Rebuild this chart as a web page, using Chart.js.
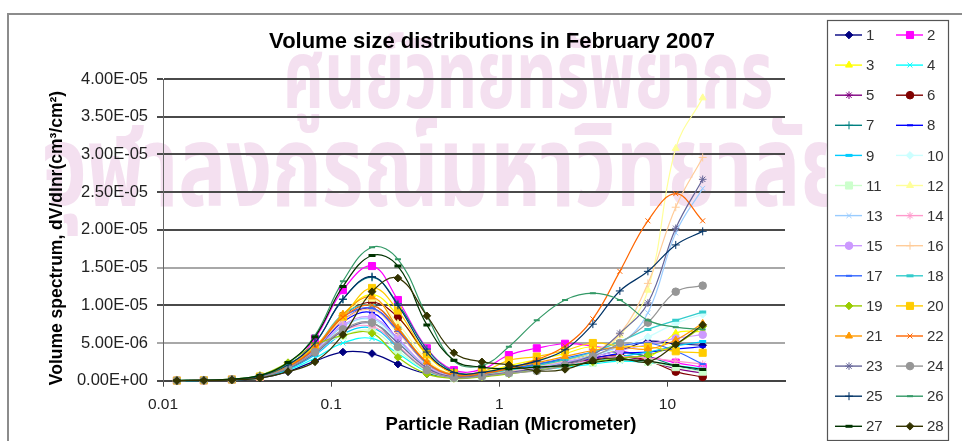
<!DOCTYPE html>
<html>
<head>
<meta charset="utf-8">
<script src="https://cdn.jsdelivr.net/npm/chart.js@4.4.1/dist/chart.umd.min.js"></script>
<style>
  html, body { margin: 0; padding: 0; background: #ffffff; }
  #wrap { width: 962px; height: 441px; position: relative; }
</style>
</head>
<body>
<div id="wrap"><canvas id="chart" width="962" height="441"></canvas></div>
<script>
// Particle radius of each size bin (micrometer)
const radii = [0.0121, 0.0175, 0.0257, 0.0377, 0.0554, 0.0801, 0.1175, 0.175, 0.2495, 0.371,
               0.537, 0.788, 1.14, 1.67, 2.46, 3.60, 5.21, 7.65, 11.2, 16.2];

// Volume spectrum per day, in units of 1E-06 cm3/cm2
const day1  = [0.01, 0.03, 0.10, 0.35, 1.2, 2.6, 3.8, 3.6, 2.2, 0.9, 0.6, 0.9, 1.4, 2.0, 2.6, 3.3, 4.0, 5.2, 4.9, 4.7];
const day2  = [0.02, 0.05, 0.15, 0.50, 1.8, 5.6, 12.0, 15.2, 10.7, 4.3, 1.4, 1.5, 3.4, 4.3, 4.9, 4.6, 4.0, 3.2, 2.4, 1.8];
const day3  = [0.02, 0.04, 0.12, 0.45, 1.6, 4.2, 8.8, 11.4, 8.6, 3.4, 1.1, 1.1, 2.0, 2.8, 3.6, 4.5, 3.5, 3.0, 6.3, 6.5];
const day4  = [0.01, 0.03, 0.10, 0.40, 1.4, 3.0, 5.0, 5.6, 3.6, 1.2, 0.4, 0.6, 1.0, 1.4, 1.8, 2.2, 2.6, 2.4, 2.0, 1.6];
const day5  = [0.02, 0.05, 0.14, 0.50, 1.7, 4.0, 8.0, 9.6, 6.5, 2.2, 0.7, 0.8, 1.3, 1.8, 2.3, 2.8, 3.2, 2.6, 1.6, 1.0];
const day6  = [0.02, 0.05, 0.14, 0.50, 1.8, 4.3, 8.6, 10.4, 8.4, 3.6, 1.0, 0.9, 1.4, 1.9, 2.4, 3.0, 3.4, 2.7, 1.2, 0.5];
const day7  = [0.02, 0.06, 0.18, 0.60, 2.1, 5.0, 10.8, 13.7, 10.2, 4.2, 1.2, 1.0, 1.6, 2.2, 2.8, 3.4, 3.8, 3.2, 2.0, 1.3];
const day8  = [0.02, 0.05, 0.14, 0.50, 1.7, 4.0, 7.8, 9.0, 5.5, 1.8, 0.6, 0.8, 1.3, 1.8, 2.4, 3.0, 3.6, 3.8, 4.2, 4.5];
const day9  = [0.01, 0.04, 0.12, 0.45, 1.5, 3.4, 6.2, 7.0, 4.4, 1.5, 0.5, 0.7, 1.1, 1.5, 2.0, 2.6, 3.2, 3.8, 4.6, 5.2];
const day10 = [0.02, 0.05, 0.14, 0.50, 1.7, 4.0, 7.2, 8.0, 5.2, 1.8, 0.6, 0.8, 1.2, 1.7, 2.4, 3.2, 4.4, 5.8, 7.6, 8.8];
const day11 = [0.02, 0.05, 0.15, 0.55, 1.9, 4.2, 6.0, 6.6, 4.0, 1.3, 0.4, 0.6, 1.0, 1.4, 1.9, 2.4, 2.9, 2.5, 1.8, 1.2];
const day12 = [0.02, 0.05, 0.15, 0.50, 1.8, 4.2, 8.6, 10.8, 7.6, 2.8, 0.8, 0.8, 1.3, 1.9, 2.6, 3.6, 6.0, 12.0, 30.8, 37.5];
const day13 = [0.02, 0.05, 0.15, 0.50, 1.7, 3.8, 7.2, 8.2, 5.4, 1.8, 0.6, 0.8, 1.3, 1.8, 2.5, 3.4, 4.8, 9.0, 19.6, 25.5];
const day14 = [0.02, 0.05, 0.14, 0.50, 1.7, 3.8, 6.6, 7.2, 4.6, 1.5, 0.5, 0.7, 1.1, 1.6, 2.1, 2.7, 3.2, 3.0, 2.6, 2.2];
const day15 = [0.02, 0.05, 0.15, 0.50, 1.8, 4.0, 7.4, 8.4, 5.6, 1.9, 0.6, 0.8, 1.3, 1.8, 2.5, 3.2, 4.0, 4.8, 5.6, 6.1];
const day16 = [0.02, 0.05, 0.15, 0.50, 1.8, 4.2, 8.0, 9.4, 6.4, 2.2, 0.7, 0.8, 1.3, 1.9, 2.7, 3.8, 6.2, 12.9, 23.0, 29.6];
const day17 = [0.02, 0.05, 0.15, 0.50, 1.8, 4.2, 8.4, 9.6, 6.6, 2.3, 0.7, 0.9, 1.5, 2.2, 3.0, 3.8, 4.6, 5.0, 3.9, 2.2];
const day18 = [0.02, 0.05, 0.16, 0.55, 1.9, 4.4, 8.8, 10.0, 7.0, 2.4, 0.8, 0.9, 1.4, 2.0, 2.8, 3.8, 5.2, 6.8, 8.0, 9.1];
const day19 = [0.03, 0.07, 0.20, 0.70, 2.4, 4.7, 6.0, 6.3, 3.1, 0.9, 0.3, 0.5, 0.9, 1.4, 1.9, 2.5, 3.0, 3.4, 4.8, 7.2];
const day20 = [0.02, 0.05, 0.16, 0.55, 2.0, 4.6, 8.5, 12.3, 9.3, 3.5, 1.0, 1.2, 2.7, 3.2, 4.0, 5.0, 4.6, 4.5, 3.9, 3.7];
const day21 = [0.02, 0.05, 0.16, 0.55, 1.9, 4.4, 8.8, 11.1, 7.0, 2.5, 0.8, 1.0, 1.7, 2.4, 3.2, 4.0, 4.4, 4.2, 5.4, 7.6];
const day22 = [0.02, 0.05, 0.15, 0.50, 1.8, 4.3, 8.4, 10.0, 6.8, 2.4, 0.7, 0.9, 1.6, 2.8, 4.6, 8.2, 14.5, 21.2, 24.8, 21.2];
const day23 = [0.02, 0.05, 0.14, 0.50, 1.6, 3.6, 6.6, 7.6, 5.0, 1.7, 0.5, 0.7, 1.1, 1.6, 2.3, 3.4, 6.3, 10.3, 20.2, 26.7];
const day24 = [0.02, 0.05, 0.15, 0.50, 1.7, 3.8, 6.8, 7.7, 4.5, 1.4, 0.4, 0.6, 1.0, 1.3, 2.0, 3.2, 5.0, 7.7, 11.8, 12.6];
const day25 = [0.02, 0.06, 0.18, 0.60, 2.1, 5.0, 10.8, 13.8, 10.0, 3.8, 1.1, 1.1, 1.8, 2.6, 4.1, 7.5, 11.9, 14.5, 18.0, 19.8];
const day26 = [0.02, 0.06, 0.20, 0.70, 2.3, 6.0, 13.2, 17.7, 16.1, 8.6, 2.6, 2.0, 4.5, 8.0, 10.7, 11.6, 10.7, 8.0, 7.1, 6.8];
const day27 = [0.02, 0.06, 0.20, 0.70, 2.4, 5.8, 12.5, 16.6, 15.2, 7.4, 2.7, 1.8, 1.6, 1.8, 2.0, 2.4, 2.8, 2.6, 2.0, 1.5];
const day28 = [0.01, 0.03, 0.10, 0.35, 1.2, 2.5, 6.1, 11.8, 13.6, 8.6, 3.7, 2.5, 2.1, 1.3, 1.5, 2.7, 3.0, 2.5, 4.8, 7.4];

const UNIT = 1e-6;
const days = [day1, day2, day3, day4, day5, day6, day7, day8, day9, day10, day11, day12, day13, day14,
              day15, day16, day17, day18, day19, day20, day21, day22, day23, day24, day25, day26, day27, day28];
const dayNames = ['1','2','3','4','5','6','7','8','9','10','11','12','13','14',
                  '15','16','17','18','19','20','21','22','23','24','25','26','27','28'];

// Axis ticks
const yTickValues = [0, 5e-6, 1e-5, 1.5e-5, 2e-5, 2.5e-5, 3e-5, 3.5e-5, 4e-5];
const xTickValues = [0.01, 0.1, 1, 10];

// Series styling
const lineColors = ['#000080','#FF00FF','#FFFF00','#00FFFF','#800080','#800000','#008080','#0000FF','#00CCFF','#CCFFFF',
                    '#CCFFCC','#FFFF99','#99CCFF','#FF99CC','#CC99FF','#FFCC99','#3366FF','#33CCCC','#99CC00','#FFCC00',
                    '#FF9900','#FF6600','#666699','#969696','#003366','#339966','#003300','#333300'];
const markerCycle = ['rectRot','rect','triangle','crossRot','star','circle','cross','line','longline'];

function markerOpts(kind) {
  switch (kind) {
    case 'rect':     return { style: 'rect', radius: 5, width: 1 };
    case 'rectRot':  return { style: 'rectRot', radius: 3.8, width: 1 };
    case 'triangle': return { style: 'triangle', radius: 4, width: 1 };
    case 'circle':   return { style: 'circle', radius: 3.8, width: 1 };
    case 'crossRot': return { style: 'crossRot', radius: 3.5, width: 1 };
    case 'star':     return { style: 'star', radius: 3.8, width: 1 };
    case 'cross':    return { style: 'cross', radius: 4, width: 1 };
    case 'line':     return { style: 'line', radius: 3, width: 2 };
    default:         return { style: 'line', radius: 3.5, width: 3 };
  }
}

function sci(v) {
  if (Math.abs(v) < 1e-12) return '0.00E+00';
  let exp = Math.floor(Math.log10(Math.abs(v)));
  let mant = v / Math.pow(10, exp);
  if (Math.abs(mant) >= 9.995) { mant /= 10; exp += 1; }
  const e = Math.abs(exp);
  return mant.toFixed(2) + 'E' + (exp < 0 ? '-' : '+') + (e < 10 ? '0' + e : '' + e);
}

const datasets = days.map((vals, i) => {
  const m = markerOpts(markerCycle[i % markerCycle.length]);
  return {
    label: dayNames[i],
    data: radii.map((r, k) => ({ x: r, y: vals[k] * UNIT })),
    borderColor: lineColors[i],
    backgroundColor: lineColors[i],
    borderWidth: 1.2,
    tension: 0.4,
    pointStyle: m.style,
    pointRadius: m.radius,
    pointBorderWidth: m.width,
    pointBackgroundColor: lineColors[i],
    pointBorderColor: lineColors[i],
    clip: 10,
    order: days.length - i
  };
});

const FONT = "'Liberation Sans', Arial, sans-serif";
const THAI = "'Noto Sans Thai', 'DejaVu Sans', sans-serif";

// Draws a text line stretched to a given width
function fitText(ctx, text, x, y, size, width) {
  ctx.font = 'bold ' + size + 'px ' + THAI;
  const w = ctx.measureText(text).width;
  ctx.save();
  ctx.translate(x, y);
  ctx.scale(width / w, 1);
  ctx.fillText(text, 0, 0);
  ctx.restore();
}

// Frame, watermark, titles and the two-column legend
const decor = {
  id: 'decor',
  beforeDraw(chart) {
    const ctx = chart.ctx;
    ctx.save();
    ctx.fillStyle = '#ffffff';
    ctx.fillRect(0, 0, chart.width, chart.height);
    ctx.strokeStyle = '#8c8c8c';
    ctx.lineWidth = 2;
    ctx.beginPath();
    ctx.moveTo(8, 445); ctx.lineTo(8, 14); ctx.lineTo(970, 14);
    ctx.stroke();
    ctx.fillStyle = 'rgba(222,165,212,0.34)';
    ctx.textBaseline = 'alphabetic';
    ctx.textAlign = 'left';
    fitText(ctx, 'ศูนย์วิทยทรัพยากร', 283, 108, 96, 490);
    fitText(ctx, 'จุฬาลงกรณ์มหาวิทยาลัย', 42, 206, 114, 808);
    ctx.restore();
  },
  afterDraw(chart) {
    const ctx = chart.ctx;
    ctx.save();
    ctx.fillStyle = '#000000';
    ctx.textAlign = 'center';
    ctx.textBaseline = 'middle';
    ctx.font = 'bold 22px ' + FONT;
    ctx.fillText('Volume size distributions in February 2007', 492, 42);
    ctx.font = 'bold 18.5px ' + FONT;
    ctx.fillText('Particle Radian (Micrometer)', 511, 425);
    ctx.translate(57, 238);
    ctx.rotate(-Math.PI / 2);
    ctx.font = 'bold 17.5px ' + FONT;
    ctx.fillText('Volume spectrum, dV/dlnr(cm\u00B3/cm\u00B2)', 0, 0);
    ctx.restore();

    // legend
    ctx.save();
    ctx.fillStyle = '#ffffff';
    ctx.fillRect(827, 20, 122, 421);
    ctx.strokeStyle = '#555555';
    ctx.lineWidth = 1.2;
    ctx.strokeRect(827.5, 20.5, 121, 420);
    const colX = [835, 896];
    chart.data.datasets.forEach((ds, i) => {
      const x0 = colX[i % 2];
      const y = 35 + Math.floor(i / 2) * 30.1;
      ctx.strokeStyle = ds.borderColor;
      ctx.lineWidth = 1.4;
      ctx.beginPath();
      ctx.moveTo(x0, y); ctx.lineTo(x0 + 27, y);
      ctx.stroke();
      ctx.fillStyle = ds.pointBackgroundColor;
      ctx.strokeStyle = ds.pointBorderColor;
      ctx.lineWidth = ds.pointBorderWidth;
      Chart.helpers.drawPoint(ctx, {
        pointStyle: ds.pointStyle, radius: ds.pointRadius, borderWidth: ds.pointBorderWidth, rotation: 0
      }, x0 + 14, y);
      ctx.fillStyle = '#333333';
      ctx.font = '15px ' + FONT;
      ctx.textAlign = 'left';
      ctx.textBaseline = 'middle';
      ctx.fillText(ds.label, x0 + 31, y + 1);
    });
    ctx.restore();
  }
};

new Chart(document.getElementById('chart'), {
  type: 'line',
  data: { datasets },
  options: {
    responsive: false,
    animation: false,
    devicePixelRatio: 1,
    layout: { padding: { top: 79, right: 177, left: 0, bottom: 0 } },
    plugins: { legend: { display: false }, title: { display: false }, tooltip: { enabled: false } },
    scales: {
      x: {
        type: 'logarithmic',
        min: 0.01,
        max: 50,
        afterBuildTicks(scale) { scale.ticks = xTickValues.map(v => ({ value: v })); },
        afterFit(scale) { scale.height = 441 - 380.7; },
        ticks: {
          callback: v => String(v),
          font: { family: FONT, size: 15.5 },
          color: '#222222',
          padding: 9,
          maxRotation: 0,
          autoSkip: false
        },
        grid: { drawOnChartArea: false, drawTicks: true, tickLength: 6, color: '#444444', lineWidth: 1 },
        border: { display: true, color: '#444444', width: 2 }
      },
      y: {
        min: 0,
        max: 4e-5,
        afterBuildTicks(scale) { scale.ticks = yTickValues.map(v => ({ value: v })); },
        afterFit(scale) { scale.width = 163; },
        ticks: {
          callback: v => sci(v),
          font: { family: FONT, size: 16.5 },
          color: '#222222',
          padding: 9
        },
        grid: {
          color: c => (Math.abs(c.tick.value - 5e-6) < 1e-9 || Math.abs(c.tick.value - 1.5e-5) < 1e-9) ? '#a8a8a8' : '#4a4a4a',
          lineWidth: 2,
          tickLength: 6
        },
        border: { display: true, color: '#666666', width: 1 }
      }
    }
  },
  plugins: [decor]
});
</script>
</body>
</html>
